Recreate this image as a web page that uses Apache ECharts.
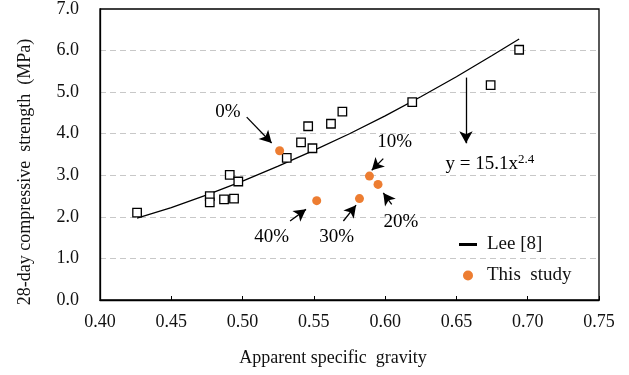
<!DOCTYPE html>
<html>
<head>
<meta charset="utf-8">
<script src="https://cdn.jsdelivr.net/npm/echarts@6/dist/echarts.min.js"></script>
<style>
  html, body { margin: 0; padding: 0; background: #fff; }
  #main { width: 629px; height: 375px; }
</style>
</head>
<body>
<div id="main"></div>
<script>
// Lee [8] data (hollow squares)
var leeX = [0.426, 0.477, 0.477, 0.487, 0.494, 0.491, 0.497, 0.531, 0.541, 0.546, 0.549, 0.562, 0.570, 0.619, 0.674, 0.694];
var leeY = [2.10, 2.50, 2.35, 2.42, 2.44, 3.01, 2.85, 3.42, 3.79, 4.18, 3.65, 4.24, 4.53, 4.76, 5.17, 6.02];

// This study (orange dots)
var studyX = [0.526, 0.589, 0.595, 0.582, 0.552];
var studyY = [3.59, 2.98, 2.78, 2.44, 2.39];
var studyTags = ['0%', '10%', '20%', '30%', '40%'];

// fitted curve y = 15.1x^2.4
var fitX = [0.426, 0.45, 0.475, 0.50, 0.525, 0.55, 0.575, 0.60, 0.625, 0.65, 0.675, 0.694];
var fitY = [1.97, 2.22, 2.53, 2.86, 3.22, 3.60, 4.00, 4.43, 4.89, 5.37, 5.88, 6.28];

// annotation labels and arrows (data units)
var tagX = [0.4898, 0.6067, 0.6111, 0.5660, 0.5204];
var tagY = [4.51, 3.80, 1.88, 1.52, 1.52];
var arrowFrom = [[0.5029, 4.40], [0.5987, 3.40], [0.6046, 2.30], [0.5707, 1.90], [0.5333, 1.90], [0.6567, 5.35]];
var arrowTo   = [[0.5204, 3.775], [0.5906, 3.12], [0.5987, 2.575], [0.5796, 2.28], [0.5445, 2.18], [0.6567, 3.77]];
var eqPos = [0.6735, 3.28];

var xTicks = { min: 0.40, max: 0.75, step: 0.05 };
var yTicks = { min: 0, max: 7, step: 1 };

var FONT = '"Liberation Serif", "Times New Roman", serif';

function pairs(xs, ys) {
  return xs.map(function (x, i) { return [x, ys[i]]; });
}

var tagData = studyTags.map(function (t, i) {
  return { name: t, value: [tagX[i], tagY[i]] };
});
tagData.push({
  name: 'eq', value: eqPos,
  label: { formatter: '{a|y = 15.1x}{b|2.4}' }
});

var arrowData = arrowFrom.map(function (p, i) {
  return [{ coord: p }, { coord: arrowTo[i] }];
});

var myChart = echarts.init(document.getElementById('main'));
var option = {
  animation: false,
  backgroundColor: '#fff',
  textStyle: { fontFamily: FONT },
  grid: {
    left: 100, right: 30, top: 8, bottom: 75,
    show: true, borderColor: '#000', borderWidth: 1.3
  },
  xAxis: {
    type: 'value',
    min: xTicks.min, max: xTicks.max, interval: xTicks.step,
    axisLine: { show: true, lineStyle: { color: '#000', width: 1.3 } },
    axisTick: { show: true, inside: true, length: 4, lineStyle: { color: '#000' } },
    axisLabel: {
      margin: 13, color: '#111', fontFamily: FONT, fontSize: 18,
      formatter: function (v) { return v.toFixed(2); }
    },
    splitLine: { show: false }
  },
  yAxis: {
    type: 'value',
    min: yTicks.min, max: yTicks.max, interval: yTicks.step,
    axisLine: { show: true, lineStyle: { color: '#000', width: 1.3 } },
    axisTick: { show: false },
    axisLabel: {
      margin: 21, color: '#111', fontFamily: FONT, fontSize: 18,
      formatter: function (v) { return v.toFixed(1); }
    },
    splitLine: {
      show: true, showMinLine: false, showMaxLine: false,
      lineStyle: { color: '#c8c8c8', type: [6, 4], width: 1 }
    }
  },
  legend: {
    data: [
      { name: 'Lee [8]', icon: 'path://M0,0 L18,0 Z M0,3.5 L18,3.5 L18,6.5 L0,6.5 Z M0,10 L18,10 Z', itemStyle: { color: '#000' } },
      { name: 'This  study', icon: 'circle' }
    ],
    orient: 'vertical',
    left: 454, top: 230,
    itemWidth: 18, itemHeight: 10,
    itemGap: 12,
    textStyle: { fontFamily: FONT, fontSize: 19, color: '#111', padding: [0, 0, 0, 5] },
    selectedMode: false
  },
  graphic: [
    {
      type: 'text', x: 25, y: 172, rotation: Math.PI / 2,
      style: {
        text: '28-day compressive  strength  (MPa)',
        font: '18px ' + FONT, fill: '#111',
        textAlign: 'center', textVerticalAlign: 'middle'
      }
    },
    {
      type: 'text', x: 333, y: 358,
      style: {
        text: 'Apparent specific  gravity',
        font: '18px ' + FONT, fill: '#111',
        textAlign: 'center', textVerticalAlign: 'middle'
      }
    }
  ],
  series: [
    {
      name: 'Lee [8]',
      type: 'line',
      data: pairs(fitX, fitY),
      smooth: false,
      showSymbol: false,
      symbol: 'none',
      lineStyle: { color: '#000', width: 1.3 },
      itemStyle: { color: '#000' },
      z: 2
    },
    {
      name: 'Lee data',
      type: 'scatter',
      data: pairs(leeX, leeY),
      symbol: 'rect',
      symbolSize: 8.5,
      itemStyle: { color: '#fff', borderColor: '#000', borderWidth: 1.3, opacity: 1 },
      z: 3
    },
    {
      name: 'This  study',
      type: 'scatter',
      data: pairs(studyX, studyY),
      symbol: 'circle',
      symbolSize: 9,
      itemStyle: { color: '#ED7D31', opacity: 1 },
      z: 4
    },
    {
      name: 'notes',
      type: 'scatter',
      data: tagData,
      symbolSize: 0.1,
      itemStyle: { color: '#000', opacity: 1 },
      silent: true,
      label: {
        show: true,
        position: [0, 0],
        align: 'center',
        verticalAlign: 'middle',
        formatter: '{b}',
        fontFamily: FONT,
        fontSize: 19,
        color: '#000',
        opacity: 1,
        textBorderWidth: 0,
        rich: {
          a: { fontFamily: FONT, fontSize: 19, color: '#000' },
          b: { fontFamily: FONT, fontSize: 13, color: '#000', padding: [0, 0, 8, 0] }
        }
      },
      markLine: {
        silent: true,
        symbol: ['none', 'arrow'],
        symbolSize: [10, 12],
        label: { show: false },
        itemStyle: { color: '#000' },
        lineStyle: { color: '#000', width: 1.3, type: 'solid', opacity: 1 },
        emphasis: { disabled: true },
        data: arrowData
      },
      z: 5
    }
  ]
};
myChart.setOption(option);
</script>
</body>
</html>
